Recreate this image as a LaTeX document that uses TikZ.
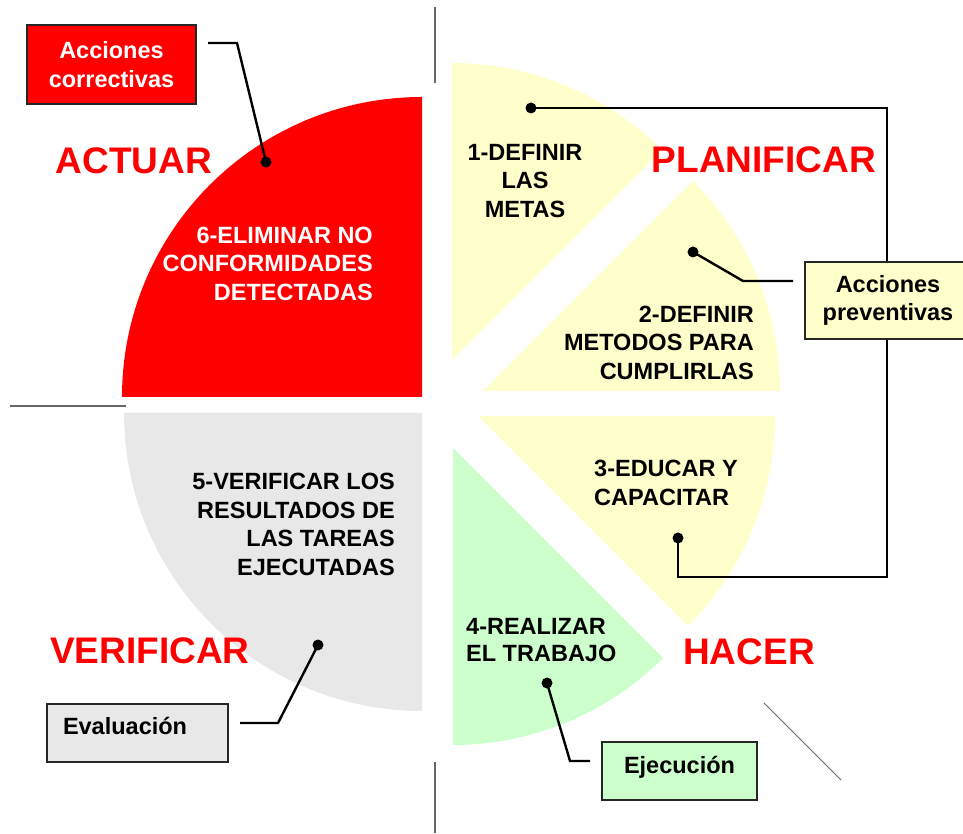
\documentclass[tikz,border=0pt]{standalone}
\usepackage{fontspec}
\setmainfont{Liberation Sans}
\definecolor{FaseRed}{RGB}{255,0,0}
\definecolor{PlanYellow}{RGB}{255,255,204}
\definecolor{HacerGreen}{RGB}{204,255,204}
\definecolor{VerifGray}{RGB}{232,232,232}
\usetikzlibrary{positioning, calc}

\begin{document}
\begin{tikzpicture}[x=1pt, y=1pt,
            fase/.style={font=\fontsize{37}{40}\selectfont\bfseries, text=FaseRed, inner sep=0pt, anchor=base},
            etapa/.style={font=\fontsize{23.5}{28.5}\selectfont\bfseries, inner sep=0pt},
            caja/.style={rectangle, draw=black!85, line width=1.5pt, font=\fontsize{23.5}{28.5}\selectfont\bfseries, align=center, inner sep=0pt},
            punto/.style={circle, fill=black, minimum size=11pt, inner sep=0pt},
            enlace/.style={line width=2.4pt, black},
            guia/.style={line width=1.5pt, black!60},
        ]
            \useasboundingbox (0,0) rectangle (963,833);
            % cuadrantes
            \fill[FaseRed] (422,436) -- (122,436) arc[start angle=180, end angle=90, radius=300] -- cycle;
            \fill[VerifGray] (422,420) -- (422,122) arc[start angle=270, end angle=180, radius=298] -- cycle;
            \fill[PlanYellow] (452,473) -- (452,770) arc[start angle=90, end angle=45, radius=297] -- cycle;
            \fill[PlanYellow] (483,442) -- ($(483,442)+(45:297)$) arc[start angle=45, end angle=0, radius=297] -- cycle;
            \fill[PlanYellow] (478,417) -- (775,417) arc[start angle=0, end angle=-45, radius=297] -- cycle;
            \fill[HacerGreen] (453,385) -- ($(453,385)+(-45:297)$) arc[start angle=-45, end angle=-90, radius=297] -- cycle;

            \draw[guia] (435,826) -- (435,750);
            \draw[guia] (10,427) -- (126,427);
            \draw[guia] (435,71) -- (435,0);
            \draw[black!60, line width=0.8pt] (764,130) -- (841,53);

            \node[fase] (actuar) at (134,659) {ACTUAR};
            \node[fase] (planificar) at (764,660) {PLANIFICAR};
            \node[fase] (hacer) at (749,169) {HACER};
            \node[fase] (verificar) at (150,170) {VERIFICAR};

            \node[etapa, text=white, align=right, anchor=east] (e6) at (373,569.5) {6-ELIMINAR NO\\CONFORMIDADES\\DETECTADAS};
            \node[etapa, align=center] (e1) at (525,652) {1-DEFINIR\\LAS\\METAS};
            \node[etapa, align=right, anchor=east] (e2) at (754,490.5) {2-DEFINIR\\METODOS PARA\\CUMPLIRLAS};
            \node[etapa, align=left, anchor=west] (e3) at (594,350) {3-EDUCAR Y\\CAPACITAR};
            \node[etapa, align=left, anchor=west, font=\fontsize{23.5}{27}\selectfont\bfseries] (e4) at (466,192.5) {4-REALIZAR\\EL TRABAJO};
            \node[etapa, align=right, anchor=east] (e5) at (395,308.5) {5-VERIFICAR LOS\\RESULTADOS DE\\LAS TAREAS\\EJECUTADAS};

            \node[caja, fill=FaseRed, text=white, minimum width=169, minimum height=79] (correctivas) at (111.5,768.5) {Acciones\\correctivas};
            \node[caja, fill=PlanYellow, minimum width=166, minimum height=77] (preventivas) at (888,532.5) {Acciones\\preventivas};
            \node[caja, fill=VerifGray, align=left, text width=149, inner xsep=16, inner ysep=4, text height=26.4, text depth=23.6] (evaluacion) at (137.5,100) {Evaluación};
            \node[caja, fill=HacerGreen, minimum width=155, inner ysep=4, text height=27.4, text depth=22.6] (ejecucion) at (679.5,62) {Ejecución};

            \node[punto] (d6) at (266,671) {};
            \node[punto] (d1) at (531,725) {};
            \node[punto] (d2) at (693,581) {};
            \node[punto] (d3) at (678,295) {};
            \node[punto] (d4) at (547,150) {};
            \node[punto] (d5) at (318,188) {};

            \coordinate (c6a) at (237,790);
            \coordinate (c6b) at (208,790);
            \coordinate (c1) at (887,725);
            \coordinate (c2a) at (743,552);
            \coordinate (c2b) at (793,552);
            \coordinate (c3a) at (678,256);
            \coordinate (c3b) at (887,256);
            \coordinate (c4a) at (570,72);
            \coordinate (c4b) at (590,72);
            \coordinate (c5a) at (278,110);
            \coordinate (c5b) at (240,110);

            \draw[enlace] (d6.center) -- (c6a) -- (c6b);
            \draw[enlace] (d1.center) -- (c1) -- (c1 |- preventivas.north);
            \draw[enlace] (d3.center) -- (c3a) -- (c3b) -- (c3b |- preventivas.south);
            \draw[enlace] (d2.center) -- (c2a) -- (c2b);
            \draw[enlace] (d4.center) -- (c4a) -- (c4b);
            \draw[enlace] (d5.center) -- (c5a) -- (c5b);
        \end{tikzpicture}
\end{document}
